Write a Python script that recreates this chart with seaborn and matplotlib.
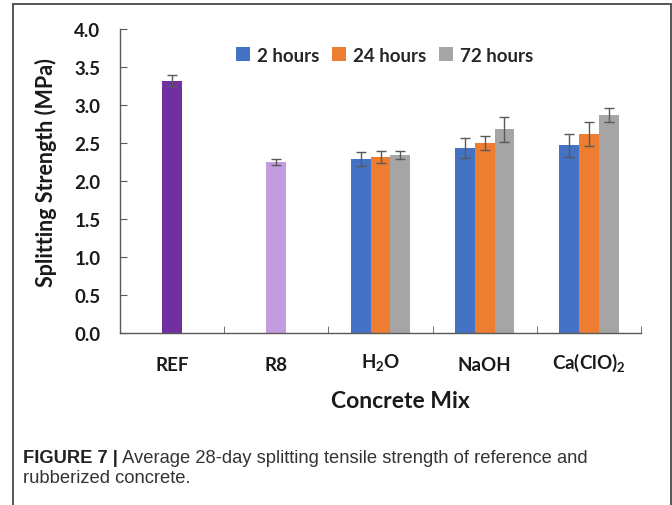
import matplotlib
matplotlib.use('Agg')
import matplotlib.pyplot as plt
from matplotlib.container import BarContainer
from matplotlib.patches import Rectangle
from matplotlib.ticker import FormatStrFormatter
from matplotlib.transforms import ScaledTranslation
import pandas as pd
import seaborn as sns

# concrete mixes on the x axis
mixes = ['REF', 'R8', 'H$_2$O', 'NaOH', 'Ca(ClO)$_2$']

# untreated mixes: one bar each
single_mixes = ['REF', 'R8']
single_values = [3.32, 2.25]
single_errors = [0.07, 0.04]

# treated rubber mixes: three soaking durations
treated_mixes = ['H$_2$O', 'NaOH', 'Ca(ClO)$_2$']
durations = ['2 hours', '24 hours', '72 hours']
values_2h = [2.29, 2.44, 2.47]
values_24h = [2.32, 2.50, 2.62]
values_72h = [2.34, 2.68, 2.87]
errors_2h = [0.09, 0.13, 0.15]
errors_24h = [0.08, 0.09, 0.16]
errors_72h = [0.05, 0.16, 0.09]

single_colors = ['#7030A0', '#C39BDF']
duration_colors = ['#4472C4', '#ED7D31', '#A5A5A5']

sns.set_style('white')
plt.rcParams['font.family'] = ['Lato', 'DejaVu Sans']
plt.rcParams['mathtext.fontset'] = 'custom'
plt.rcParams['mathtext.rm'] = 'Lato:bold'
plt.rcParams['mathtext.bf'] = 'Lato:bold'
plt.rcParams['mathtext.it'] = 'Lato:bold'
plt.rcParams['mathtext.default'] = 'bf'

df_single = pd.DataFrame({'mix': single_mixes, 'value': single_values, 'err': single_errors})
rows = []
for d, vals, errs in zip(durations, [values_2h, values_24h, values_72h], [errors_2h, errors_24h, errors_72h]):
    for m, v, e in zip(treated_mixes, vals, errs):
        rows.append({'mix': m, 'duration': d, 'value': v, 'err': e})
df_treated = pd.DataFrame(rows)

fig = plt.figure(figsize=(6.72, 5.06), dpi=100)
ax = fig.add_axes([120 / 672, 1 - 334.3 / 506, 521 / 672, 304.3 / 506])

sns.barplot(data=df_single, x='mix', y='value', hue='mix', order=mixes,
            palette=single_colors, width=0.19, errorbar=None, legend=False,
            saturation=1, linewidth=0, ax=ax)
n_single = len(ax.containers)
sns.barplot(data=df_treated, x='mix', y='value', hue='duration', order=mixes,
            hue_order=durations, palette=duration_colors, width=0.57,
            errorbar=None, saturation=1, linewidth=0, ax=ax)
single_conts = [c for c in ax.containers[:n_single] if isinstance(c, BarContainer)]
treated_conts = [c for c in ax.containers[n_single:] if isinstance(c, BarContainer)]


def add_errors(bar, e):
    xc = bar.get_x() + bar.get_width() / 2
    ax.errorbar(xc, bar.get_height(), yerr=e, color='#595959', capsize=3.5,
                elinewidth=1.0, capthick=1.0, fmt='none', zorder=5)


# error bars placed on the drawn bars
for cont in single_conts:
    for bar in cont.patches:
        if bar is None or not bar.get_height() > 0:
            continue
        mix = mixes[int(round(bar.get_x() + bar.get_width() / 2))]
        add_errors(bar, df_single.loc[df_single['mix'] == mix, 'err'].iloc[0])

for d, cont in zip(durations, treated_conts):
    for bar in cont.patches:
        if bar is None or not bar.get_height() > 0:
            continue
        mix = mixes[int(round(bar.get_x() + bar.get_width() / 2))]
        sel = df_treated[(df_treated['mix'] == mix) & (df_treated['duration'] == d)]
        if not sel.empty:
            add_errors(bar, sel['err'].iloc[0])

ax.set_xlim(-0.5, 4.5)
ax.set_ylim(0, 4.0)
ax.set_yticks([0, 0.5, 1.0, 1.5, 2.0, 2.5, 3.0, 3.5, 4.0])
ax.yaxis.set_major_formatter(FormatStrFormatter('%.1f'))
ax.set_xticks(range(len(mixes)))
ax.set_xticklabels(mixes)
ax.set_xticks([0.5, 1.5, 2.5, 3.5, 4.5], minor=True)

for s in ['top', 'right']:
    ax.spines[s].set_visible(False)
for s in ['left', 'bottom']:
    ax.spines[s].set_color('#595959')
    ax.spines[s].set_linewidth(1.0)

ax.tick_params(axis='y', direction='in', length=5, color='#595959', pad=14,
               labelsize=13.5, left=True)
ax.tick_params(axis='x', which='major', length=0, pad=16, labelsize=13.5)
ax.tick_params(axis='x', which='minor', direction='in', length=5, color='#595959', bottom=True)
for t in ax.get_xticklabels() + ax.get_yticklabels():
    t.set_fontweight('bold')
    t.set_color('#1a1a1a')
# subscripted labels sit a bit higher, as in the source figure
for t in ax.get_xticklabels():
    if '$' in t.get_text():
        t.set_transform(t.get_transform() + ScaledTranslation(0, 3 / 72, fig.dpi_scale_trans))

ax.set_ylabel('Splitting Strength (MPa)', fontsize=15.5, fontweight='bold', color='#1a1a1a')
ax.set_xlabel('Concrete Mix', fontsize=16.5, fontweight='bold', color='#1a1a1a')
ax.yaxis.set_label_coords((57 - 120) / 521, 0.532)
ax.xaxis.set_label_coords((400 - 120) / 521, -0.185)

handles, labels = ax.get_legend_handles_labels()
ax.legend(handles, labels, loc='center', bbox_to_anchor=(0.508, 0.914), ncol=3,
          frameon=False, handlelength=0.75, handleheight=0.75, handletextpad=0.35,
          columnspacing=0.7, prop={'weight': 'bold', 'size': 13.5})

# outer frame of the figure panel
fig.patches.append(Rectangle((13 / 672, -0.1), (670.5 - 13) / 672, 1.1 - 4.5 / 506,
                             transform=fig.transFigure, fill=False,
                             edgecolor='#555555', linewidth=1.4))

cap_font = ['Liberation Sans', 'DejaVu Sans']
cap = fig.text(23 / 672, 1 - 463 / 506, 'FIGURE 7 |', fontsize=13.2, fontweight='bold',
               family=cap_font, color='#222222', va='baseline')
ax.annotate(' Average 28-day splitting tensile strength of reference and',
            xy=(1, 0), xycoords=cap, va='bottom', ha='left', fontsize=13.2,
            family=cap_font, color='#333333', annotation_clip=False)
fig.text(23 / 672, 1 - 483 / 506, 'rubberized concrete.', fontsize=13.2,
         family=cap_font, color='#333333', va='baseline')

fig.savefig('out.png', dpi=100)
